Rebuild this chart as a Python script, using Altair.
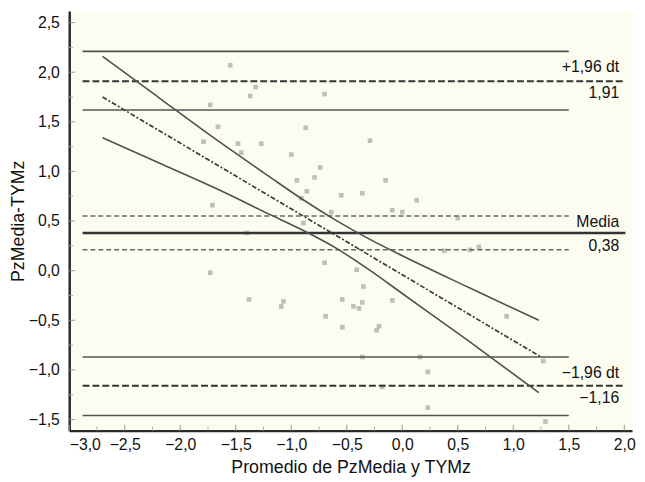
import altair as alt
import pandas as pd

# ---- data ----
mean_x = [-1.55, -1.73, -1.32, -1.37, -0.70, -1.66, -0.87, -1.79, -1.48, -1.27,
          -1.45, -1.00, -0.74, -0.79, -0.95, -0.86, -0.55, -0.29, -0.15, -0.36,
          -1.71, -0.09, -0.64, 0.13, -0.91, -0.70, -0.41, -0.35, -0.54, -0.44,
          -0.39, -0.36, -0.69, -0.21, -0.23, -0.54, 0.94, -1.38, -1.07, -1.09,
          -0.09, -1.73, -0.36, 0.16, 0.23, 0.23, 1.29, 1.27, -0.18, 0.69,
          0.00, -0.89, 0.38, 0.61, 0.50, -1.40]
diff_y = [2.07, 1.67, 1.85, 1.76, 1.78, 1.45, 1.44, 1.30, 1.28, 1.28,
          1.19, 1.17, 1.04, 0.94, 0.91, 0.80, 0.76, 1.31, 0.91, 0.78,
          0.66, 0.61, 0.59, 0.71, 0.73, 0.08, 0.01, -0.16, -0.29, -0.36,
          -0.38, -0.32, -0.46, -0.56, -0.60, -0.57, -0.46, -0.29, -0.31, -0.36,
          -0.30, -0.02, -0.87, -0.87, -1.02, -1.38, -1.52, -0.91, -1.17, 0.24,
          0.59, 0.48, 0.20, 0.21, 0.53, 0.38]

mean_level = 0.38
limit_levels = [1.91, -1.16]
limit_ci_levels = [2.21, 1.62, -0.87, -1.46]
mean_ci_levels = [0.55, 0.21]
line_start = -2.88
ci_end = 1.5
main_end = 2.01

reg_x = [-2.7, 1.25]
reg_y = [1.75, -0.87]
band_x = [-2.7, -2.2, -1.7, -1.2, -0.9, -0.6, -0.3, 0.0, 0.6, 1.23]
band_upper = [2.16, 1.75, 1.34, 0.95, 0.72, 0.51, 0.32, 0.15, -0.17, -0.50]
band_lower = [1.34, 1.09, 0.84, 0.57, 0.41, 0.23, 0.01, -0.23, -0.71, -1.23]

label_text = ["+1,96 dt", "1,91", "Media", "0,38", "\u22121,96 dt", "\u22121,16"]
label_y = [2.05, 1.79, 0.49, 0.25, -1.035, -1.284]

x_major = [-3.0, -2.5, -2.0, -1.5, -1.0, -0.5, 0.0, 0.5, 1.0, 1.5, 2.0]
x_minor = [-2.75, -2.25, -1.75, -1.25, -0.75, -0.25, 0.25, 0.75, 1.25, 1.75]
y_major = [-1.5, -1.0, -0.5, 0.0, 0.5, 1.0, 1.5, 2.0, 2.5]
y_minor = [-1.25, -0.75, -0.25, 0.25, 0.75, 1.25, 1.75, 2.25]

W, H = 570, 425
FONT = "Liberation Sans"

xs = alt.Scale(domain=[-3.0, 2.07], nice=False, zero=False)
ys = alt.Scale(domain=[-1.612, 2.617], nice=False, zero=False)
lab = "replace(replace(format(datum.value, '.1f'), '.', ','), '-', '\u2212')"
xaxis = alt.Axis(values=x_major, labelExpr=lab, ticks=False, grid=False,
                 labelPadding=6, titlePadding=6)
yaxis = alt.Axis(values=y_major, labelExpr=lab, ticks=False, grid=False,
                 labelPadding=10, titleX=-60, titleY=H / 2, titleAngle=270,
                 titleAlign="center", titleBaseline="top")
XT = "Promedio de PzMedia y TYMz"
YT = "PzMedia-TYMz"


def X(f):
    return alt.X(f, type="quantitative", scale=xs, axis=xaxis, title=XT)


def Y(f):
    return alt.Y(f, type="quantitative", scale=ys, axis=yaxis, title=YT)


pts = pd.DataFrame({"x": mean_x, "y": diff_y})
points = alt.Chart(pts).mark_square(size=22, color="#b4b4ac", opacity=0.85).encode(
    x=X("x"), y=Y("y"))


def hlines(levels, x0, x1):
    return pd.DataFrame({"y": levels, "x0": [x0] * len(levels), "x1": [x1] * len(levels)})


ci_rules = alt.Chart(hlines(limit_ci_levels, line_start, ci_end)).mark_rule(
    color="#555555", strokeWidth=1.6).encode(x=X("x0"), x2="x1", y=Y("y"))
mci_rules = alt.Chart(hlines(mean_ci_levels, line_start, ci_end)).mark_rule(
    color="#666666", strokeWidth=1.5, strokeDash=[5, 3]).encode(x=X("x0"), x2="x1", y=Y("y"))
lim_rules = alt.Chart(hlines(limit_levels, line_start, main_end)).mark_rule(
    color="#333333", strokeWidth=2, strokeDash=[7, 3]).encode(x=X("x0"), x2="x1", y=Y("y"))
mean_rule = alt.Chart(hlines([mean_level], line_start, main_end)).mark_rule(
    color="#333333", strokeWidth=2.6).encode(x=X("x0"), x2="x1", y=Y("y"))

reg = alt.Chart(pd.DataFrame({"x": reg_x, "y": reg_y})).mark_line(
    color="#3a3a3a", strokeWidth=1.7, strokeDash=[5, 2, 2, 2]).encode(x=X("x"), y=Y("y"))
bands_df = pd.DataFrame({
    "x": band_x + band_x,
    "y": band_upper + band_lower,
    "b": ["up"] * len(band_x) + ["lo"] * len(band_x),
})
bands = alt.Chart(bands_df).mark_line(color="#505050", strokeWidth=1.6, interpolate="monotone").encode(
    x=X("x"), y=Y("y"), detail="b:N")

labels = alt.Chart(pd.DataFrame({"t": label_text, "y": label_y})).mark_text(
    align="right", baseline="middle", font=FONT, fontSize=16, color="#111111").encode(
    x=alt.value(557), y=Y("y"), text="t:N")

xt_major = alt.Chart(pd.DataFrame({"t": x_major})).mark_rule(color="#999999", strokeWidth=1).encode(
    x=X("t"), y=alt.value(H), y2=alt.value(H - 6))
xt_minor = alt.Chart(pd.DataFrame({"t": x_minor})).mark_rule(color="#aaaaaa", strokeWidth=1).encode(
    x=X("t"), y=alt.value(H), y2=alt.value(H - 4))
yt_major = alt.Chart(pd.DataFrame({"t": y_major})).mark_rule(color="#999999", strokeWidth=1).encode(
    y=Y("t"), x=alt.value(0), x2=alt.value(6))
yt_minor = alt.Chart(pd.DataFrame({"t": y_minor})).mark_rule(color="#aaaaaa", strokeWidth=1).encode(
    y=Y("t"), x=alt.value(0), x2=alt.value(4))

chart = alt.layer(
    points, mci_rules, ci_rules, lim_rules, mean_rule, bands, reg, labels,
    xt_major, xt_minor, yt_major, yt_minor,
).properties(
    width=W, height=H,
    autosize=alt.AutoSizeParams(type="none"),
    padding={"left": 62, "top": 0, "right": 5, "bottom": 50},
    background="white",
).configure_view(
    fill="#fdfcf1", stroke="transparent"
).configure_axis(
    labelFont=FONT, labelFontSize=16, labelColor="#111111",
    titleFont=FONT, titleFontSize=18, titleFontWeight="normal", titleColor="#111111",
    domainColor="#2a2a2a", domainWidth=2.5,
)

chart.save("out.html", embed_options={"renderer": "svg", "actions": False})
